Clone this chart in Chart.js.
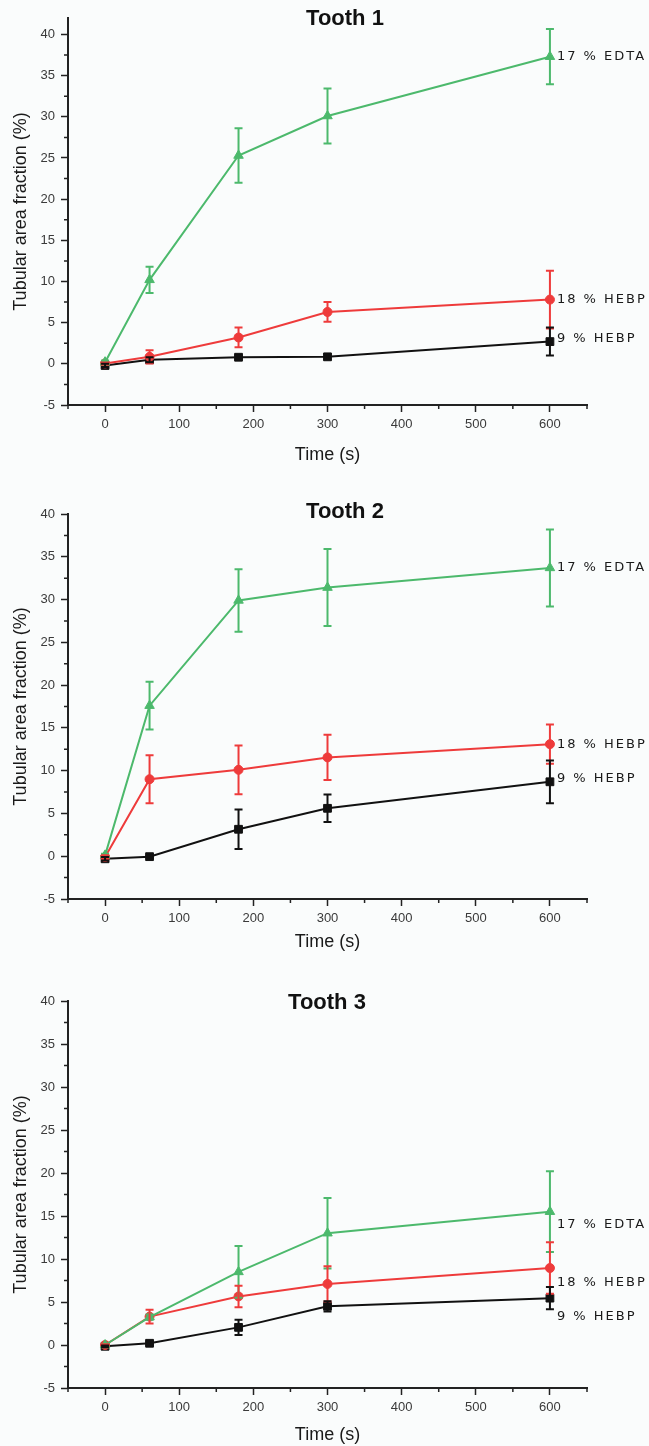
<!DOCTYPE html>
<html>
<head>
<meta charset="utf-8">
<script src="https://cdn.jsdelivr.net/npm/chart.js@4.4.1/dist/chart.umd.min.js"></script>
<style>
  body { margin: 0; background: #fff; }
  #wrap { position: relative; width: 649px; height: 1446px; background: #fafcfc; }
  canvas { position: absolute; left: 0; }
</style>
</head>
<body>
<div id="wrap">
  <canvas id="tooth1" style="top:0px"></canvas>
  <canvas id="tooth2" style="top:480px"></canvas>
  <canvas id="tooth3" style="top:960px"></canvas>
</div>
<script>
// Waktu pengambilan (s) dan label sumbu
const times = [0, 60, 180, 300, 600];
const seriesNames = ['17 % EDTA', '18 % HEBP', '9 % HEBP'];
const xTickValues = [0, 100, 200, 300, 400, 500, 600];
const xMinorValues = [-50, 50, 150, 250, 350, 450, 550, 650];
const yTickValues = [-5, 0, 5, 10, 15, 20, 25, 30, 35, 40];
const yMinorValues = [-2.5, 2.5, 7.5, 12.5, 17.5, 22.5, 27.5, 32.5, 37.5];

// Tooth 1
const t1Edta17 = [0.2, 10.2, 25.3, 30.1, 37.3];
const t1Edta17Err = [0.2, 1.6, 3.3, 3.35, 3.35];
const t1Hebp18 = [0.05, 0.85, 3.2, 6.3, 7.8];
const t1Hebp18Err = [0.1, 0.8, 1.2, 1.2, 3.5];
const t1Hebp9 = [-0.2, 0.5, 0.8, 0.85, 2.7];
const t1Hebp9Err = [0.2, 0.3, 0.2, 0.3, 1.7];

// Tooth 2
const t2Edta17 = [0.1, 17.6, 29.9, 31.4, 33.7];
const t2Edta17Err = [0.2, 2.8, 3.65, 4.5, 4.5];
const t2Hebp18 = [-0.1, 9.0, 10.1, 11.55, 13.1];
const t2Hebp18Err = [0.2, 2.8, 2.85, 2.65, 2.3];
const t2Hebp9 = [-0.3, -0.05, 3.15, 5.6, 8.7];
const t2Hebp9Err = [0.2, 0.1, 2.3, 1.6, 2.5];

// Tooth 3
const t3Edta17 = [0, 3.25, 8.5, 13.0, 15.5];
const t3Edta17Err = [0.1, 0.3, 3.0, 4.1, 4.7];
const t3Hebp18 = [0, 3.3, 5.65, 7.1, 8.95];
const t3Hebp18Err = [0.1, 0.8, 1.25, 2.05, 3.0];
const t3Hebp9 = [-0.15, 0.2, 2.05, 4.5, 5.45];
const t3Hebp9Err = [0.1, 0.2, 0.9, 0.6, 1.3];

const colors = ['#4cb96c', '#ee3b3b', '#111111'];
const shapes = ['triangle', 'circle', 'rect'];
const radii = [5.5, 4.5, 5.5];

// Error bar: garis vertikal + tutup
const errorBars = {
  id: 'errorBars',
  afterDatasetsDraw(chart) {
    const ctx = chart.ctx;
    const ys = chart.scales.y;
    chart.data.datasets.forEach((ds, i) => {
      const meta = chart.getDatasetMeta(i);
      ctx.save();
      ctx.strokeStyle = ds.borderColor;
      ctx.lineWidth = 2;
      meta.data.forEach((pt, j) => {
        const v = ds.data[j].y, e = ds.errors[j];
        const top = ys.getPixelForValue(v + e);
        const bot = ys.getPixelForValue(v - e);
        ctx.beginPath();
        ctx.moveTo(pt.x, top); ctx.lineTo(pt.x, bot);
        ctx.moveTo(pt.x - 4, top); ctx.lineTo(pt.x + 4, top);
        ctx.moveTo(pt.x - 4, bot); ctx.lineTo(pt.x + 4, bot);
        ctx.stroke();
      });
      ctx.restore();
    });
  }
};

// Tick minor (lebih pendek dari tick utama)
const minorTicks = {
  id: 'minorTicks',
  afterDraw(chart) {
    const ctx = chart.ctx;
    const xs = chart.scales.x, ys = chart.scales.y;
    ctx.save();
    ctx.strokeStyle = '#222';
    ctx.lineWidth = 1.5;
    ctx.beginPath();
    xMinorValues.forEach(v => {
      const px = xs.getPixelForValue(v);
      ctx.moveTo(px, xs.top); ctx.lineTo(px, xs.top + 4);
    });
    yMinorValues.forEach(v => {
      const py = ys.getPixelForValue(v);
      ctx.moveTo(ys.right, py); ctx.lineTo(ys.right - 4, py);
    });
    ctx.stroke();
    ctx.restore();
  }
};

// Judul panel dan label seri di ujung kanan
const panelText = {
  id: 'panelText',
  afterDraw(chart, args, opts) {
    const ctx = chart.ctx;
    ctx.save();
    ctx.fillStyle = '#111';
    ctx.font = 'bold 22px "Liberation Sans", Arial, sans-serif';
    ctx.textAlign = 'center';
    ctx.textBaseline = 'middle';
    ctx.fillText(opts.title, opts.titleX, opts.titleY);

    ctx.font = '13px "DejaVu Sans", sans-serif';
    ctx.letterSpacing = '2px';
    ctx.textAlign = 'left';
    ctx.fillStyle = '#1a1a1a';
    chart.data.datasets.forEach((ds, i) => {
      const meta = chart.getDatasetMeta(i);
      const last = meta.data[meta.data.length - 1];
      ctx.fillText(ds.label, last.x + 7, last.y + opts.labelDy[i]);
    });
    ctx.restore();
  }
};

function buatGrafik(cfg) {
  const canvas = document.getElementById(cfg.id);
  canvas.width = 649;
  canvas.height = cfg.height;
  canvas.style.width = '649px';
  canvas.style.height = cfg.height + 'px';

  const datasets = cfg.series.map((vals, i) => ({
    label: seriesNames[i],
    data: times.map((t, j) => ({ x: t, y: vals[j] })),
    errors: cfg.errors[i],
    borderColor: colors[i],
    backgroundColor: colors[i],
    borderWidth: 2,
    pointStyle: shapes[i],
    pointRadius: radii[i],
    pointBorderWidth: 1,
    tension: 0
  }));

  return new Chart(canvas.getContext('2d'), {
    type: 'line',
    data: { datasets },
    options: {
      responsive: false,
      animation: false,
      devicePixelRatio: 1,
      layout: { padding: { top: cfg.top, right: 62, left: 0, bottom: 0 } },
      plugins: {
        legend: { display: false },
        tooltip: { enabled: false },
        panelText: { title: cfg.title, titleX: cfg.titleX, titleY: cfg.titleY, labelDy: cfg.labelDy }
      },
      scales: {
        x: {
          type: 'linear',
          min: -50,
          max: 650,
          afterBuildTicks: s => { s.ticks = xTickValues.map(v => ({ value: v })); },
          afterFit: s => { s.height = cfg.xAxisH; },
          grid: { drawOnChartArea: false, tickLength: 7, color: '#222', tickWidth: 1.5 },
          border: { display: true, color: '#222', width: 2 },
          ticks: {
            color: '#3a3a3a', padding: 5, maxRotation: 0,
            font: { family: '"Liberation Sans", Arial, sans-serif', size: 13 }
          },
          title: {
            display: true, text: 'Time (s)', color: '#1a1a1a',
            padding: { top: 0, bottom: cfg.xTitlePad },
            font: { family: '"Liberation Sans", Arial, sans-serif', size: 18 }
          }
        },
        y: {
          min: -5,
          max: cfg.yMax,
          afterBuildTicks: s => { s.ticks = yTickValues.map(v => ({ value: v })); },
          afterFit: s => { s.width = 68; },
          grid: { drawOnChartArea: false, tickLength: 7, color: '#222', tickWidth: 1.5 },
          border: { display: true, color: '#222', width: 2 },
          ticks: {
            color: '#3a3a3a', padding: 6,
            font: { family: '"Liberation Sans", Arial, sans-serif', size: 13 }
          },
          title: {
            display: true, text: 'Tubular area fraction (%)', color: '#1a1a1a',
            padding: { top: 10, bottom: 0 },
            font: { family: '"Liberation Sans", Arial, sans-serif', size: 18 }
          }
        }
      }
    },
    plugins: [errorBars, minorTicks, panelText]
  });
}

buatGrafik({
  id: 'tooth1', height: 475, top: 18, xAxisH: 70, yMax: 42, xTitlePad: 9,
  title: 'Tooth 1', titleX: 345, titleY: 19, labelDy: [0, 0, -3],
  series: [t1Edta17, t1Hebp18, t1Hebp9],
  errors: [t1Edta17Err, t1Hebp18Err, t1Hebp9Err]
});
buatGrafik({
  id: 'tooth2', height: 475, top: 34, xAxisH: 56, yMax: 40, xTitlePad: 2,
  title: 'Tooth 2', titleX: 345, titleY: 32, labelDy: [0, 0, -3],
  series: [t2Edta17, t2Hebp18, t2Hebp9],
  errors: [t2Edta17Err, t2Hebp18Err, t2Hebp9Err]
});
buatGrafik({
  id: 'tooth3', height: 486, top: 41, xAxisH: 58, yMax: 40, xTitlePad: 0,
  title: 'Tooth 3', titleX: 327, titleY: 43, labelDy: [13, 15, 18],
  series: [t3Edta17, t3Hebp18, t3Hebp9],
  errors: [t3Edta17Err, t3Hebp18Err, t3Hebp9Err]
});
</script>
</body>
</html>
